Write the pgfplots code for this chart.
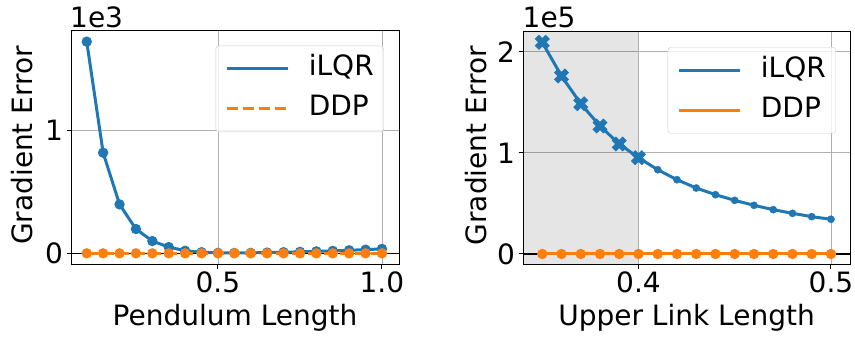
\documentclass[border=0pt]{standalone}
\usepackage{fontspec}
\setmainfont{DejaVu Sans}
\usepackage{pgfplots}
\pgfplotsset{compat=1.18}
\definecolor{tabblue}{RGB}{31,119,180}
\definecolor{taborange}{RGB}{255,127,14}
\definecolor{gridgray}{RGB}{176,176,176}
\definecolor{legframe}{RGB}{204,204,204}
\pgfdeclareplotmark{bigX}{%
  \pgftransformrotate{45}%
  \pgfpathmoveto{\pgfpoint{-0.35\pgfplotmarksize}{\pgfplotmarksize}}%
  \pgfpathlineto{\pgfpoint{0.35\pgfplotmarksize}{\pgfplotmarksize}}%
  \pgfpathlineto{\pgfpoint{0.35\pgfplotmarksize}{0.35\pgfplotmarksize}}%
  \pgfpathlineto{\pgfpoint{\pgfplotmarksize}{0.35\pgfplotmarksize}}%
  \pgfpathlineto{\pgfpoint{\pgfplotmarksize}{-0.35\pgfplotmarksize}}%
  \pgfpathlineto{\pgfpoint{0.35\pgfplotmarksize}{-0.35\pgfplotmarksize}}%
  \pgfpathlineto{\pgfpoint{0.35\pgfplotmarksize}{-\pgfplotmarksize}}%
  \pgfpathlineto{\pgfpoint{-0.35\pgfplotmarksize}{-\pgfplotmarksize}}%
  \pgfpathlineto{\pgfpoint{-0.35\pgfplotmarksize}{-0.35\pgfplotmarksize}}%
  \pgfpathlineto{\pgfpoint{-\pgfplotmarksize}{-0.35\pgfplotmarksize}}%
  \pgfpathlineto{\pgfpoint{-\pgfplotmarksize}{0.35\pgfplotmarksize}}%
  \pgfpathlineto{\pgfpoint{-0.35\pgfplotmarksize}{0.35\pgfplotmarksize}}%
  \pgfpathclose
  \pgfusepathqfillstroke
}
\newcommand{\bigfont}{\fontsize{28bp}{33bp}\selectfont}
\pgfplotsset{
  mystyle/.style={
    scale only axis,
    clip mode=individual,
    /pgf/number format/assume math mode=true,
    tick label style={font=\bigfont},
    label style={font=\bigfont},
    tick align=outside, tick pos=left,
    major tick length=4.5bp,
    axis line style={black, line width=1bp},
    every tick/.style={black, line width=1bp},
    grid=major,
    grid style={gridgray, line width=0.8bp},
    legend cell align=left,
    legend image code/.code={\draw[#1, line width=3bp] (0bp,0bp) -- (61bp,0bp);},
    legend style={anchor=north east, draw=legframe,
      rounded corners=3bp, fill=white, fill opacity=0.8, text opacity=1,
      font=\bigfont, inner xsep=10bp, inner ysep=10bp,
      column sep=19bp, row sep=14bp,
      nodes={inner sep=0pt, text height=20bp, text depth=6bp}},
  }
}
\begin{document}
\begin{tikzpicture}[x=1bp,y=1bp]
\useasboundingbox (0,0) rectangle (855,338);
% ---------- left panel ----------
\begin{axis}[mystyle, name=L,
  at={(71bp,74bp)}, anchor=south west,
  width=328bp, height=233bp,
  xmin=0.052, xmax=1.052, ymin=-0.087, ymax=1.812,
  xtick={0.5,1.0}, xticklabels={0.5,1.0},
  ytick={0,1}, yticklabels={0,1},
  xlabel={Pendulum Length}, ylabel={Gradient Error},
  xlabel style={at={(axis description cs:0.5,-0.266)}, anchor=base},
  ylabel style={at={(axis description cs:-0.1159,0.509)}, anchor=base},
  legend style={at={(0.954,0.937)}},
]
\addplot[black, line width=1.4bp, forget plot] coordinates {(0.052,0) (1.052,0)};
\addplot[tabblue, line width=3bp, mark=*, mark size=3.6bp, mark options={solid}] coordinates {
(0.10,1.725) (0.15,0.820) (0.20,0.399) (0.25,0.198) (0.30,0.100) (0.35,0.051)
(0.40,0.021) (0.45,0.009) (0.50,0.004) (0.55,0.003) (0.60,0.004) (0.65,0.006)
(0.70,0.009) (0.75,0.012) (0.80,0.016) (0.85,0.020) (0.90,0.025) (0.95,0.030) (1.00,0.036)};
\addlegendentry{iLQR}
\addplot[taborange, line width=3bp, dash pattern=on 11bp off 4.8bp, mark=*, mark size=3.6bp, mark options={solid}] coordinates {
(0.10,0) (0.15,0) (0.20,0) (0.25,0) (0.30,0) (0.35,0) (0.40,0) (0.45,0) (0.50,0) (0.55,0)
(0.60,0) (0.65,0) (0.70,0) (0.75,0) (0.80,0) (0.85,0) (0.90,0) (0.95,0) (1.00,0)};
\addlegendentry{DDP}
\end{axis}
\node[anchor=base west, inner sep=0pt, font=\bigfont] at (70bp,310.5bp) {1e3};
% ---------- right panel ----------
\begin{axis}[mystyle, name=R,
  at={(523bp,74bp)}, anchor=south west,
  width=327bp, height=232.3bp,
  xmin=0.340, xmax=0.5099, ymin=-0.099, ymax=2.197,
  xtick={0.4,0.5}, xticklabels={0.4,0.5},
  ytick={0,1,2}, yticklabels={0,1,2},
  xlabel={Upper Link Length}, ylabel={Gradient Error},
  xlabel style={at={(axis description cs:0.5,-0.266)}, anchor=base},
  ylabel style={at={(axis description cs:-0.111,0.509)}, anchor=base},
  legend style={at={(0.957,0.934)}},
]
\fill[black, fill opacity=0.1] (axis cs:0.340,-0.099) rectangle (axis cs:0.4,2.197);
\addplot[black, line width=1.4bp, forget plot] coordinates {(0.340,0) (0.5099,0)};
\addplot[tabblue, line width=3bp] coordinates {
(0.35,2.092) (0.36,1.759) (0.37,1.485) (0.38,1.265) (0.39,1.087) (0.40,0.952)
(0.41,0.833) (0.42,0.734) (0.43,0.652) (0.44,0.586) (0.45,0.530) (0.46,0.481)
(0.47,0.438) (0.48,0.402) (0.49,0.369) (0.50,0.343)};
\addlegendentry{iLQR}
\addplot[tabblue, only marks, mark=*, mark size=3.6bp, forget plot] coordinates {
(0.41,0.833) (0.42,0.734) (0.43,0.652) (0.44,0.586) (0.45,0.530) (0.46,0.481)
(0.47,0.438) (0.48,0.402) (0.49,0.369) (0.50,0.343)};
\addplot[tabblue, only marks, mark=bigX, mark size=7.3bp, line width=0.8bp, forget plot] coordinates {
(0.35,2.092) (0.36,1.759) (0.37,1.485) (0.38,1.265) (0.39,1.087) (0.40,0.952)};
\addplot[taborange, line width=3bp, mark=*, mark size=3.6bp] coordinates {
(0.35,0) (0.36,0) (0.37,0) (0.38,0) (0.39,0) (0.40,0) (0.41,0) (0.42,0)
(0.43,0) (0.44,0) (0.45,0) (0.46,0) (0.47,0) (0.48,0) (0.49,0) (0.50,0)};
\addlegendentry{DDP}
\end{axis}
\node[anchor=base west, inner sep=0pt, font=\bigfont] at (522.5bp,310.5bp) {1e5};
\end{tikzpicture}
\end{document}
